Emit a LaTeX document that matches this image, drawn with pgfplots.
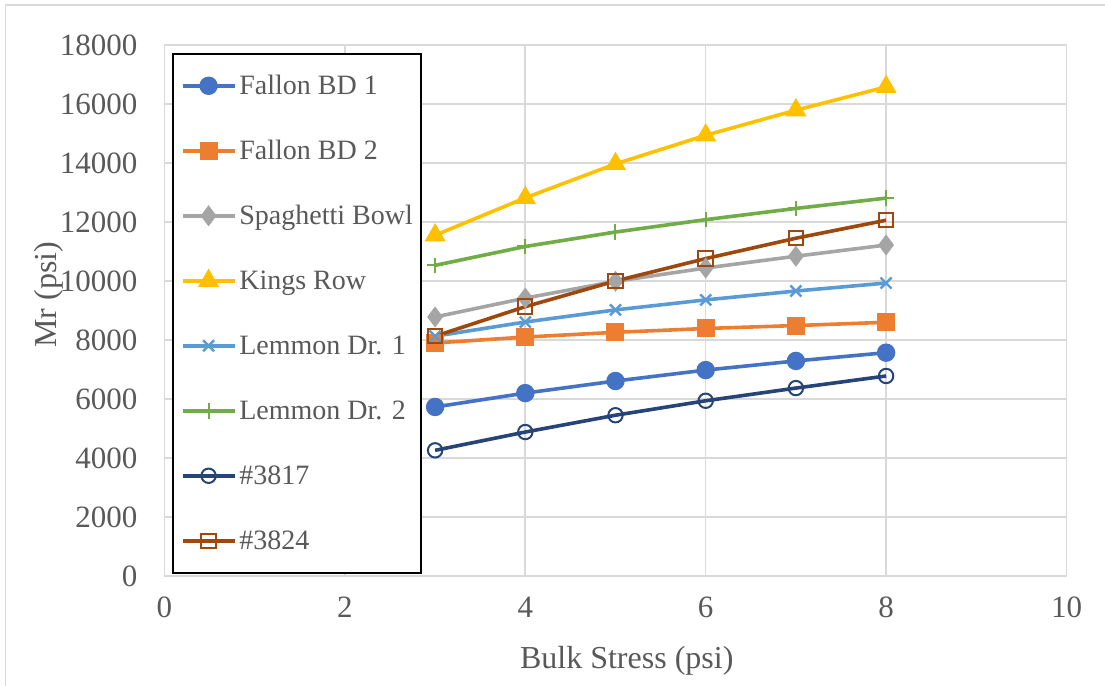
\documentclass[border=0pt]{standalone}
\usepackage{fontspec}
\setmainfont{Liberation Serif}
\usepackage{pgfplots}
\pgfplotsset{compat=1.18}

\definecolor{cBlue}{HTML}{4472C4}
\definecolor{cOrange}{HTML}{ED7D31}
\definecolor{cGray}{HTML}{A5A5A5}
\definecolor{cGold}{HTML}{FFC000}
\definecolor{cLightBlue}{HTML}{5B9BD5}
\definecolor{cGreen}{HTML}{70AD47}
\definecolor{cNavy}{HTML}{264478}
\definecolor{cBrown}{HTML}{9E480E}
\definecolor{txt}{HTML}{595959}
\definecolor{gridc}{HTML}{D9D9D9}

\begin{document}
\begin{tikzpicture}
% page frame
\useasboundingbox (-82.25pt,-55pt) rectangle (470.25pt,288pt);
\draw[gridc, line width=0.8pt] (-79.5pt,285.5pt) rectangle (480pt,-70pt);
\begin{axis}[
  scale only axis,
  width=451pt, height=265.5pt,
  xmin=0, xmax=10, ymin=0, ymax=18000,
  xtick={0,2,...,10}, ytick={0,2000,...,18000},
  scaled y ticks=false,
  yticklabel style={/pgf/number format/set thousands separator={}},
  /pgf/number format/assume math mode=true,
  tick style={draw=none},
  grid=major,
  major grid style={gridc, line width=0.8pt},
  axis line style={gridc, line width=0.8pt},
  tick label style={font=\fontsize{15.5}{17}\selectfont, text=txt},
  xticklabel style={yshift=-7pt},
  yticklabel style={xshift=-10pt},
  xlabel={Bulk Stress (psi)},
  ylabel={Mr (psi)},
  label style={font=\fontsize{16}{18}\selectfont, text=txt},
  xlabel style={at={(axis description cs:0.5125,-0.160)}, anchor=center},
  ylabel style={at={(axis description cs:-0.128,0.53)}, anchor=center, rotate=0},
  legend cell align=left,
  legend style={
    at={(axis description cs:0.0083,0.985)}, anchor=north west,
    draw=black, line width=0.8pt, fill=white,
    font=\fontsize{14}{16}\selectfont, text=txt,
    row sep=19.5pt, inner xsep=4pt, inner ysep=9.5pt,
    nodes={text height=11pt, text depth=2pt, inner sep=0pt, outer xsep=2pt},
  },
  legend image code/.code={
    \draw[mark repeat=2, mark phase=2]
      plot coordinates {(0pt,0pt) (13pt,0pt) (26pt,0pt)};
    \path (27.5pt,0pt);
  },
  every axis plot/.append style={line width=1.8pt},
]
\addplot[cBlue, mark=*, mark size=3.7pt, mark options={solid, fill=cBlue}]
  coordinates {(3,5730) (4,6200) (5,6610) (6,6980) (7,7290) (8,7570)};
\addlegendentry{Fallon BD 1}
\addplot[cOrange, mark=square*, mark size=3.6pt, mark options={fill=cOrange}]
  coordinates {(3,7900) (4,8100) (5,8260) (6,8390) (7,8490) (8,8600)};
\addlegendentry{Fallon BD 2}
\addplot[cGray, mark=diamond*, mark size=3.8pt, mark options={fill=cGray}]
  coordinates {(3,8780) (4,9420) (5,9990) (6,10440) (7,10840) (8,11220)};
\addlegendentry{Spaghetti Bowl}
\addplot[cGold, mark=triangle*, mark size=4.3pt, mark options={fill=cGold}]
  coordinates {(3,11550) (4,12820) (5,13970) (6,14940) (7,15790) (8,16580)};
\addlegendentry{Kings Row}
\addplot[cLightBlue, mark=x, mark size=3.9pt, mark options={line width=1.2pt}]
  coordinates {(3,8130) (4,8610) (5,9020) (6,9360) (7,9660) (8,9930)};
\addlegendentry{Lemmon Dr. 1}
\addplot[cGreen, mark=+, mark size=3.9pt, mark options={line width=1pt}]
  coordinates {(3,10530) (4,11170) (5,11660) (6,12080) (7,12460) (8,12810)};
\addlegendentry{Lemmon Dr. 2}
\addplot[cNavy, mark=o, mark size=3.6pt, mark options={line width=1pt}]
  coordinates {(3,4260) (4,4880) (5,5450) (6,5940) (7,6370) (8,6780)};
\addlegendentry{\#3817}
\addplot[cBrown, mark=square, mark size=3.6pt, mark options={line width=1pt}]
  coordinates {(3,8130) (4,9130) (5,10000) (6,10760) (7,11450) (8,12060)};
\addlegendentry{\#3824}
\end{axis}
\end{tikzpicture}
\end{document}
